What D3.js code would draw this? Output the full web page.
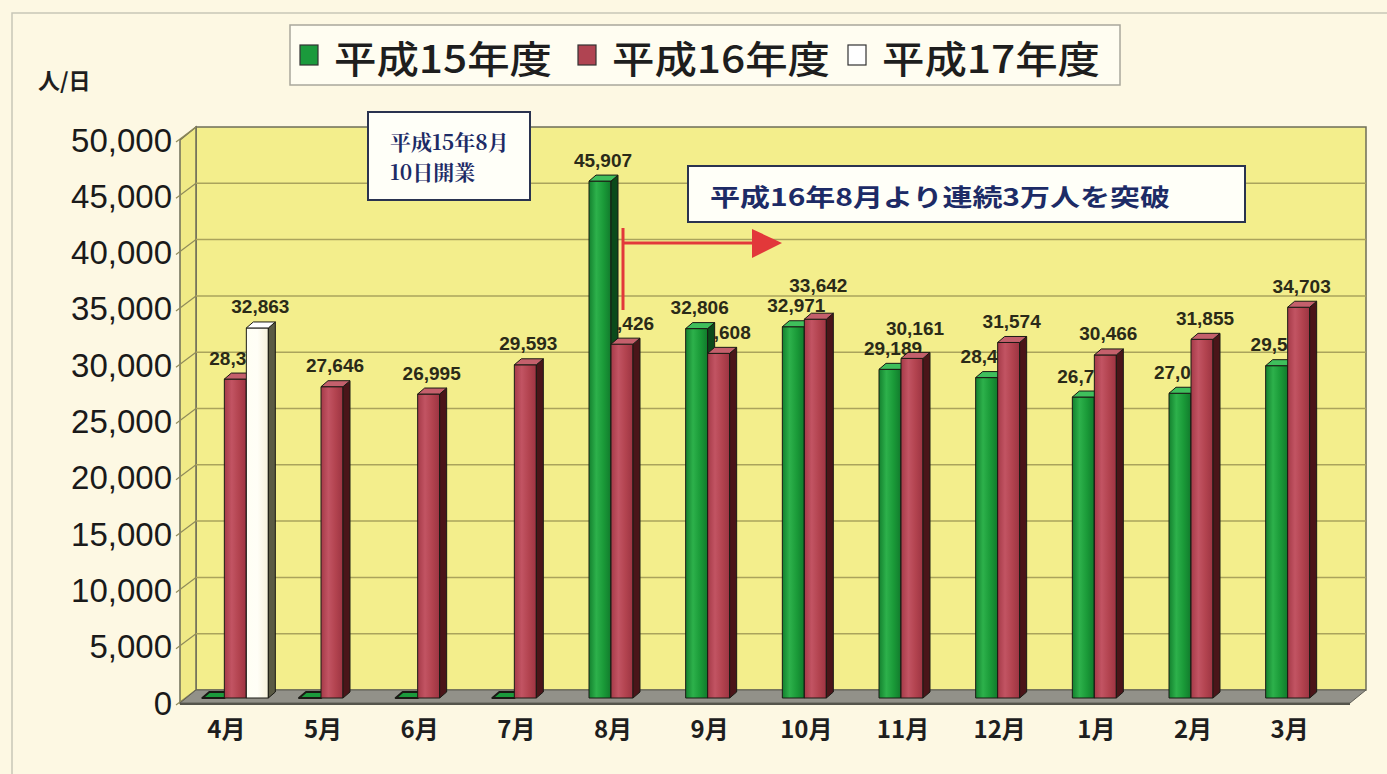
<!DOCTYPE html>
<html>
<head>
<meta charset="utf-8">
<script src="https://cdn.jsdelivr.net/npm/d3@7"></script>
<style>
  body { margin: 0; background: #fdf8e3; }
  svg { display: block; }
</style>
</head>
<body>
<svg id="chart" width="1387" height="774"></svg>
<script>
const months = ['4月', '5月', '6月', '7月', '8月', '9月', '10月', '11月', '12月', '1月', '2月', '3月'];
const seriesNames = ['平成15年度', '平成16年度', '平成17年度'];
const h15 = [0, 0, 0, 0, 45907, 32806, 32971, 29189, 28456, 26730, 27064, 29514];
const h16 = [28324, 27646, 26995, 29593, 31426, 30608, 33642, 30161, 31574, 30466, 31855, 34703];
const h17 = [32863, null, null, null, null, null, null, null, null, null, null, null];
const yTicks = d3.range(0, 50001, 5000);

const svg = d3.select('#chart');
const fmt = d3.format(',');

// 3d geometry
const DX = 16, DY = -13;     // wall depth
const BDX = 7, BDY = -6;     // bar depth
const left = 180, right = 1350;

const y = d3.scaleLinear().domain([0, 50000]).range([703, 140]);
const x = d3.scaleBand().domain(months).range([180, 1340]);
const xs = d3.scaleBand().domain(seriesNames).range([0, 66]);

// outer frame
svg.append('rect').attr('x', 12).attr('y', 13).attr('width', 1400).attr('height', 800)
  .attr('fill', '#fdf8e3').attr('stroke', '#c8c6b8').attr('stroke-width', 1.5);

const defs = svg.append('defs');
function grad(id, stops) {
  const g = defs.append('linearGradient').attr('id', id).attr('x1', 0).attr('x2', 1).attr('y1', 0).attr('y2', 0);
  stops.forEach((c, i) => g.append('stop').attr('offset', i / (stops.length - 1)).attr('stop-color', c));
}
grad('gG', ['#13812e', '#2db14b', '#1a9a38', '#117a2c']);
grad('gR', ['#a53a48', '#c25463', '#b2434f', '#9c3442']);
grad('gW', ['#fffff4', '#fffef6', '#f6f2dc']);

const colors = {
  '平成15年度': { front: 'url(#gG)', side: '#0b4a1a', top: '#3fbf5c', legend: '#1b9a3c' },
  '平成16年度': { front: 'url(#gR)', side: '#4a1519', top: '#c4606c', legend: '#b04452' },
  '平成17年度': { front: 'url(#gW)', side: '#5a5a44', top: '#ffffff', legend: '#ffffff' }
};

// back wall
const wall = svg.append('g');
wall.append('rect')
  .attr('x', left + DX).attr('y', y(50000) + DY)
  .attr('width', right - left).attr('height', y(0) - y(50000))
  .attr('fill', '#f3ee8c').attr('stroke', '#6e6d58').attr('stroke-width', 1.5);
// side wall
wall.append('polygon')
  .attr('points', [[left, y(0)], [left, y(50000)], [left + DX, y(50000) + DY], [left + DX, y(0) + DY]].join(' '))
  .attr('fill', '#f0ea86').attr('stroke', '#6e6d58').attr('stroke-width', 1.5);

// grid
wall.selectAll('line.grid').data(yTicks.slice(1, -1)).join('line')
  .attr('class', 'grid')
  .attr('x1', left + DX).attr('x2', right + DX)
  .attr('y1', d => y(d) + DY).attr('y2', d => y(d) + DY)
  .attr('stroke', '#aaa35c').attr('stroke-width', 1.5);
wall.selectAll('line.side').data(yTicks).join('line')
  .attr('class', 'side')
  .attr('x1', left - 4).attr('x2', left + DX)
  .attr('y1', d => y(d) + 2).attr('y2', d => y(d) + DY)
  .attr('stroke', '#8f8a5a').attr('stroke-width', 1.2);

// floor
wall.append('polygon')
  .attr('points', [[left, y(0)], [right, y(0)], [right + DX, y(0) + DY], [left + DX, y(0) + DY]].join(' '))
  .attr('fill', '#929189').attr('stroke', '#5f5e56').attr('stroke-width', 1);
wall.append('line').attr('x1', left).attr('x2', right).attr('y1', y(0) + 1).attr('y2', y(0) + 1)
  .attr('stroke', '#55554c').attr('stroke-width', 2);

// y axis labels
svg.append('g').selectAll('text').data(yTicks).join('text')
  .attr('x', 172).attr('y', d => y(d))
  .attr('text-anchor', 'end').attr('dominant-baseline', 'central')
  .attr('font-family', 'Liberation Sans, Arial, sans-serif').attr('font-size', 33)
  .attr('fill', '#1a1a1a')
  .text(d => fmt(d));

svg.append('text').attr('x', 38).attr('y', 89)
  .attr('font-family', 'Noto Sans CJK JP, sans-serif').attr('font-weight', 700).attr('font-size', 22)
  .attr('fill', '#1e1e1e').text('人/日');

// month labels
svg.append('g').selectAll('text').data(months).join('text')
  .attr('x', d => x(d) + x.bandwidth() / 2 - 2).attr('y', 727)
  .attr('text-anchor', 'middle').attr('dominant-baseline', 'central')
  .attr('font-family', 'Noto Sans CJK JP, sans-serif').attr('font-weight', 700).attr('font-size', 24)
  .attr('fill', '#1e1e1e')
  .text(d => d);

// bar records
const bars = [];
months.forEach((m, i) => {
  [h15, h16, h17].forEach((arr, s) => {
    const v = arr[i];
    if (v === null) return;
    const name = seriesNames[s];
    const x0 = x(m) + x.bandwidth() / 2 - 33 + 7 + xs(name);
    bars.push({ m, i, s, name, v, x0, w: xs.bandwidth(), yt: y(v) - 5, yb: y(0) - 5 });
  });
});

// value labels (drawn under the bars)
const labels = bars.filter(d => d.v > 0).map(d => ({
  d, cx: d.x0 + d.w / 2 + 3, cy: d.yt + BDY - 15
}));
labels.forEach((l, k) => {
  labels.slice(0, k).forEach(o => {
    if (o.d.i === l.d.i && Math.abs(o.cx - l.cx) < 62 && l.cy > o.cy - 20 && l.cy < o.cy + 20) {
      l.cy = o.cy - 20;
    }
  });
});
svg.append('g').selectAll('text').data(labels).join('text')
  .attr('x', l => l.cx).attr('y', l => l.cy)
  .attr('text-anchor', 'middle').attr('dominant-baseline', 'central')
  .attr('font-family', 'Liberation Sans, Arial, sans-serif').attr('font-weight', 700).attr('font-size', 19)
  .attr('fill', '#2a2a18')
  .text(l => fmt(l.d.v));

// bars
const gb = svg.append('g').attr('stroke', '#1a1a14').attr('stroke-width', 1).attr('stroke-linejoin', 'round');
bars.forEach(d => {
  const c = colors[d.name];
  const x1 = d.x0 + d.w;
  if (d.v > 0) {
    gb.append('rect').attr('x', d.x0).attr('y', d.yt).attr('width', d.w).attr('height', d.yb - d.yt)
      .attr('fill', c.front);
    gb.append('polygon')
      .attr('points', [[x1, d.yt], [x1 + BDX, d.yt + BDY], [x1 + BDX, d.yb + BDY], [x1, d.yb]].join(' '))
      .attr('fill', c.side);
  }
  gb.append('polygon')
    .attr('points', [[d.x0, d.yt], [d.x0 + BDX, d.yt + BDY], [x1 + BDX, d.yt + BDY], [x1, d.yt]].join(' '))
    .attr('fill', d.v > 0 ? c.top : c.legend)
    .attr('stroke-width', d.v > 0 ? 1 : 2);
});

// legend
const lg = svg.append('g');
lg.append('rect').attr('x', 290).attr('y', 25).attr('width', 830).attr('height', 60)
  .attr('fill', '#fffdf1').attr('stroke', '#a9a79c').attr('stroke-width', 1.5);
const legX = [300, 578, 848];
seriesNames.forEach((n, i) => {
  lg.append('rect').attr('x', legX[i]).attr('y', 45).attr('width', 18).attr('height', 20)
    .attr('fill', colors[n].legend).attr('stroke', '#333').attr('stroke-width', 1.2);
  lg.append('text').attr('x', legX[i] + 34).attr('y', 56)
    .attr('dominant-baseline', 'central')
    .attr('font-family', 'Noto Sans CJK JP, sans-serif').attr('font-weight', 500).attr('font-size', 38)
    .attr('textLength', 218).attr('lengthAdjust', 'spacingAndGlyphs')
    .attr('fill', '#1e1e1e').text(n);
});

// annotation boxes
const navy = '#1d2b66';
svg.append('rect').attr('x', 368).attr('y', 112).attr('width', 162).attr('height', 88)
  .attr('fill', '#fffff8').attr('stroke', '#2a3350').attr('stroke-width', 2);
svg.append('text').attr('x', 390).attr('y', 141).attr('dominant-baseline', 'central')
  .attr('font-family', 'Noto Serif CJK JP, Noto Sans CJK JP, serif').attr('font-weight', 700).attr('font-size', 21)
  .attr('fill', navy).text('平成15年8月');
svg.append('text').attr('x', 390).attr('y', 171).attr('dominant-baseline', 'central')
  .attr('font-family', 'Noto Serif CJK JP, Noto Sans CJK JP, serif').attr('font-weight', 700).attr('font-size', 21)
  .attr('fill', navy).text('10日開業');

svg.append('rect').attr('x', 688).attr('y', 166).attr('width', 557).attr('height', 56)
  .attr('fill', '#fffff8').attr('stroke', '#2a3350').attr('stroke-width', 2);
svg.append('text').attr('x', 710).attr('y', 195).attr('dominant-baseline', 'central')
  .attr('font-family', 'Noto Sans CJK JP, sans-serif').attr('font-weight', 700).attr('font-size', 24)
  .attr('textLength', 460).attr('lengthAdjust', 'spacingAndGlyphs')
  .attr('fill', navy).text('平成16年8月より連続3万人を突破');

// red arrow
const red = '#e2383a';
svg.append('line').attr('x1', 623).attr('x2', 623).attr('y1', 228).attr('y2', 310)
  .attr('stroke', red).attr('stroke-width', 3);
svg.append('line').attr('x1', 623).attr('x2', 756).attr('y1', 243).attr('y2', 243)
  .attr('stroke', red).attr('stroke-width', 3);
svg.append('polygon').attr('points', '752,229 782,243 752,258').attr('fill', red);
</script>
</body>
</html>
